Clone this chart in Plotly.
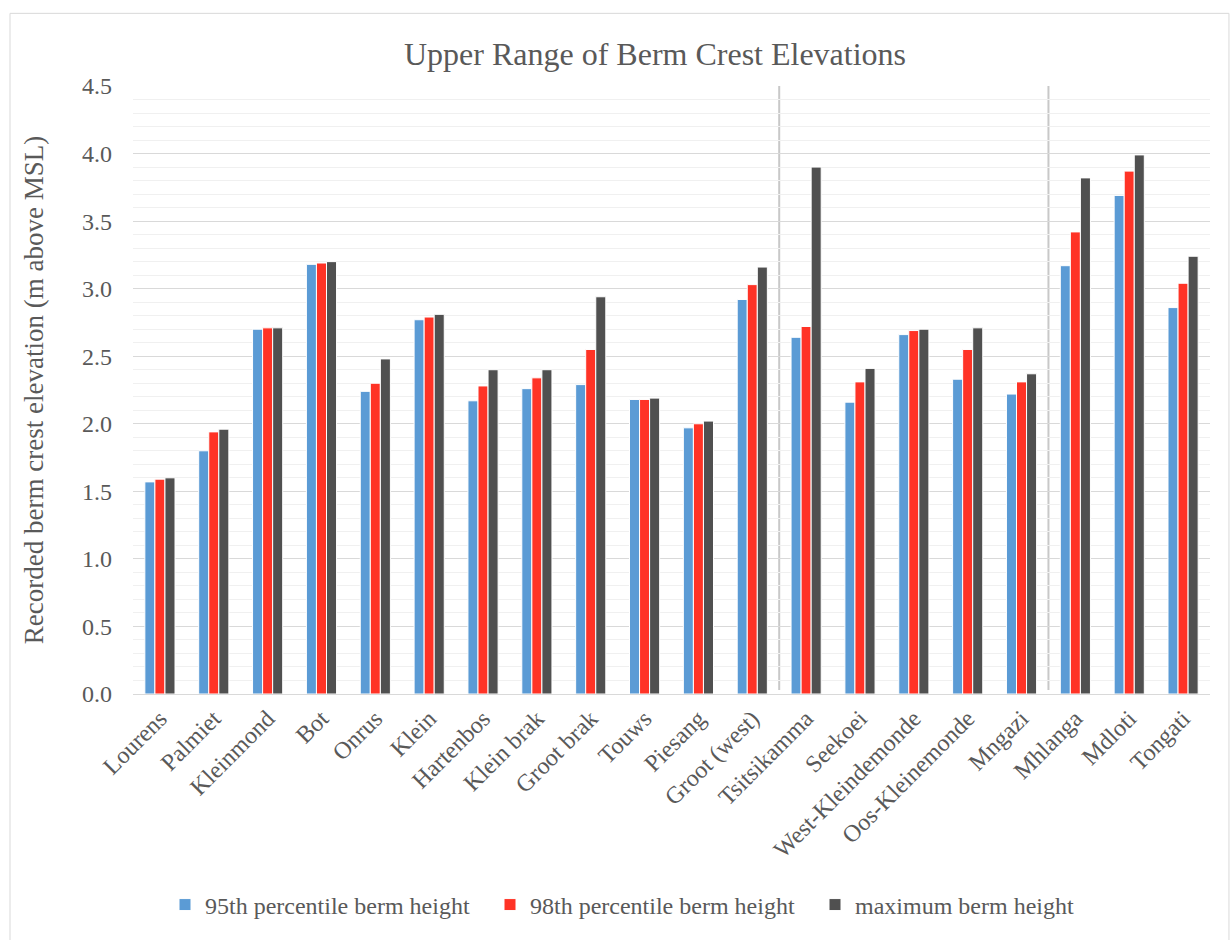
import plotly.graph_objects as go

# Estuary sites along the coast
sites = ["Lourens", "Palmiet", "Kleinmond", "Bot", "Onrus", "Klein", "Hartenbos",
         "Klein brak", "Groot brak", "Touws", "Piesang", "Groot (west)", "Tsitsikamma",
         "Seekoei", "West-Kleindemonde", "Oos-Kleinemonde", "Mngazi", "Mhlanga",
         "Mdloti", "Tongati"]

# Berm crest elevations (m above MSL)
p95 = [1.57, 1.80, 2.70, 3.18, 2.24, 2.77, 2.17, 2.26, 2.29, 2.18, 1.97, 2.92,
       2.64, 2.16, 2.66, 2.33, 2.22, 3.17, 3.69, 2.86]
p98 = [1.59, 1.94, 2.71, 3.19, 2.30, 2.79, 2.28, 2.34, 2.55, 2.18, 2.00, 3.03,
       2.72, 2.31, 2.69, 2.55, 2.31, 3.42, 3.87, 3.04]
pmax = [1.60, 1.96, 2.71, 3.20, 2.48, 2.81, 2.40, 2.40, 2.94, 2.19, 2.02, 3.16,
        3.90, 2.41, 2.70, 2.71, 2.37, 3.82, 3.99, 3.24]

series = [
    ("95th percentile berm height", p95, "#5B9BD5"),
    ("98th percentile berm height", p98, "#FF3326"),
    ("maximum berm height", pmax, "#505050"),
]

# Region boundaries between site groups
region_breaks = [11.5, 16.5]

TXT = "#595959"
FONT = "Liberation Serif"

fig = go.Figure()
for name, vals, col in series:
    fig.add_trace(go.Bar(
        x=sites, y=vals, name=name,
        marker=dict(color=col, line=dict(color="white", width=1)),
    ))

shapes = []
for b in region_breaks:
    shapes.append(dict(type="line", xref="x", yref="y", x0=b, x1=b, y0=0.03, y1=4.5,
                       line=dict(color="#c8c8c8", width=2), layer="below"))
# outer chart frame
shapes.append(dict(type="rect", xref="paper", yref="paper",
                   x0=-0.1142, x1=1.0176, y0=-0.42, y1=1.1195,
                   line=dict(color="#d9d9d9", width=1)))

fig.update_layout(
    width=1231, height=940,
    margin=dict(l=133, r=21, t=86, b=243),
    paper_bgcolor="white", plot_bgcolor="white",
    barmode="group", bargap=0.44, bargroupgap=0.0,
    font=dict(family=FONT, color=TXT, size=24),
    title=dict(text="Upper Range of Berm Crest Elevations",
               font=dict(family=FONT, size=32, color=TXT),
               x=(655 - 133) / 1077, xanchor="center", y=1 - 54 / 940, yanchor="middle",
               xref="paper"),
    showlegend=True,
    legend=dict(orientation="h", x=(165 - 133) / 1077, xanchor="left",
                y=-0.347, yanchor="middle",
                font=dict(family=FONT, size=24, color=TXT),
                itemwidth=30, tracegroupgap=0,
                entrywidthmode="pixels", entrywidth=280),
    shapes=shapes,
)

fig.update_yaxes(
    range=[0, 4.5], dtick=0.5, tickformat=".1f",
    showgrid=True, gridcolor="#d9d9d9", gridwidth=1,
    minor=dict(dtick=0.1, showgrid=True, gridcolor="#f0f0f0", gridwidth=1),
    zeroline=False, showline=False, ticks="", ticklabelstandoff=20,
    tickfont=dict(family=FONT, size=24, color=TXT),
    title=dict(text="Recorded berm crest elevation (m above MSL)",
               font=dict(family=FONT, size=27, color=TXT), standoff=30),
)
fig.update_xaxes(
    tickangle=-45, showline=True, linecolor="#d9d9d9", linewidth=1,
    ticks="", showgrid=False,
    tickfont=dict(family=FONT, size=24, color=TXT),
)

fig.write_html("out.html")
